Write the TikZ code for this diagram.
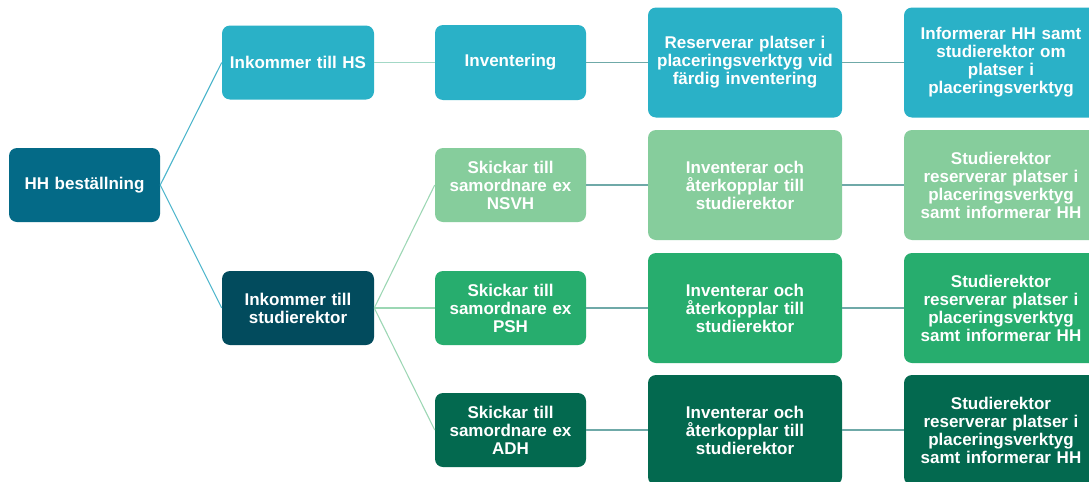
\documentclass[tikz,border=0pt]{standalone}
\usepackage{fontspec}
\setmainfont{Liberation Sans}[WordSpace={0.6,0.6,0.6}]
\definecolor{cdark}{HTML}{046A87}
\definecolor{ccyan}{HTML}{2AB1C7}
\definecolor{cnavy}{HTML}{024B5D}
\definecolor{glight}{HTML}{86CD9C}
\definecolor{gmid}{HTML}{27AD6E}
\definecolor{gdark}{HTML}{03694F}
\definecolor{lcyan}{HTML}{4AB5CB}
\definecolor{lmint}{HTML}{A3D8C6}
\definecolor{lgreen}{HTML}{9CD7B4}
\definecolor{lgray}{HTML}{6FA9A8}
\tikzset{
  box/.style={rounded corners=6pt, inner sep=0pt, align=center, text=white,
    font=\bfseries\fontsize{12.75pt}{13.5pt}\selectfont},
  small/.style={box, minimum width=113.25pt, text width=110pt, minimum height=55.5pt},
  large/.style={box, minimum width=145.5pt, text width=142pt, minimum height=82.5pt},
  conn/.style={line width=0.8pt}
}
\begin{document}
\begin{tikzpicture}[x=0.75pt,y=-0.75pt]
\clip (0,0) rectangle (1089,482);
\fill[white] (0,0) rectangle (1089,482);
% column 1-2
\node[small, fill=cdark] (hh) at (84.5,185) {HH beställning};
\node[small, fill=ccyan, minimum width=114pt] (hs) at (298,62.5) {Inkommer till HS};
\node[small, fill=cnavy, minimum width=114pt] (sr) at (298,308) {Inkommer till\\studierektor};
% row 1
\node[small, fill=ccyan, minimum height=56.25pt] (inv) at (510.5,62.5) {Inventering};
\node[large, fill=ccyan] (res) at (745,62.5) {Reserverar platser i\\placeringsverktyg vid\\färdig inventering};
\node[large, fill=ccyan] (inf) at (1001,62.5) {Informerar HH samt\\studierektor om\\platser i\\placeringsverktyg};
% row 2
\node[small, fill=glight] (s2) at (510.5,185) {Skickar till\\samordnare ex\\NSVH};
\node[large, fill=glight] (i2) at (745,185) {Inventerar och\\återkopplar till\\studierektor};
\node[large, fill=glight] (r2) at (1001,185) {Studierektor\\reserverar platser i\\placeringsverktyg\\samt informerar HH};
% row 3
\node[small, fill=gmid] (s3) at (510.5,308) {Skickar till\\samordnare ex\\PSH};
\node[large, fill=gmid] (i3) at (745,308) {Inventerar och\\återkopplar till\\studierektor};
\node[large, fill=gmid] (r3) at (1001,308) {Studierektor\\reserverar platser i\\placeringsverktyg\\samt informerar HH};
% row 4
\node[small, fill=gdark] (s4) at (510.5,430) {Skickar till\\samordnare ex\\ADH};
\node[large, fill=gdark] (i4) at (745,430) {Inventerar och\\återkopplar till\\studierektor};
\node[large, fill=gdark] (r4) at (1001,430) {Studierektor\\reserverar platser i\\placeringsverktyg\\samt informerar HH};
% connectors
\draw[conn, lcyan] (hh.east) -- (hs.west);
\draw[conn, lcyan] (hh.east) -- (sr.west);
\draw[conn, lmint] (hs.east) -- (inv.west);
\draw[conn, lgray] (inv.east) -- (res.west);
\draw[conn, lgray] (res.east) -- (inf.west);
\draw[conn, lgreen] (sr.east) -- (s2.west);
\draw[conn, lgreen] (sr.east) -- (s3.west);
\draw[conn, lgreen] (sr.east) -- (s4.west);
\draw[conn, lgray] (s2.east) -- (i2.west);
\draw[conn, lgray] (i2.east) -- (r2.west);
\draw[conn, lgray] (s3.east) -- (i3.west);
\draw[conn, lgray] (i3.east) -- (r3.west);
\draw[conn, lgray] (s4.east) -- (i4.west);
\draw[conn, lgray] (i4.east) -- (r4.west);
\end{tikzpicture}
\end{document}
